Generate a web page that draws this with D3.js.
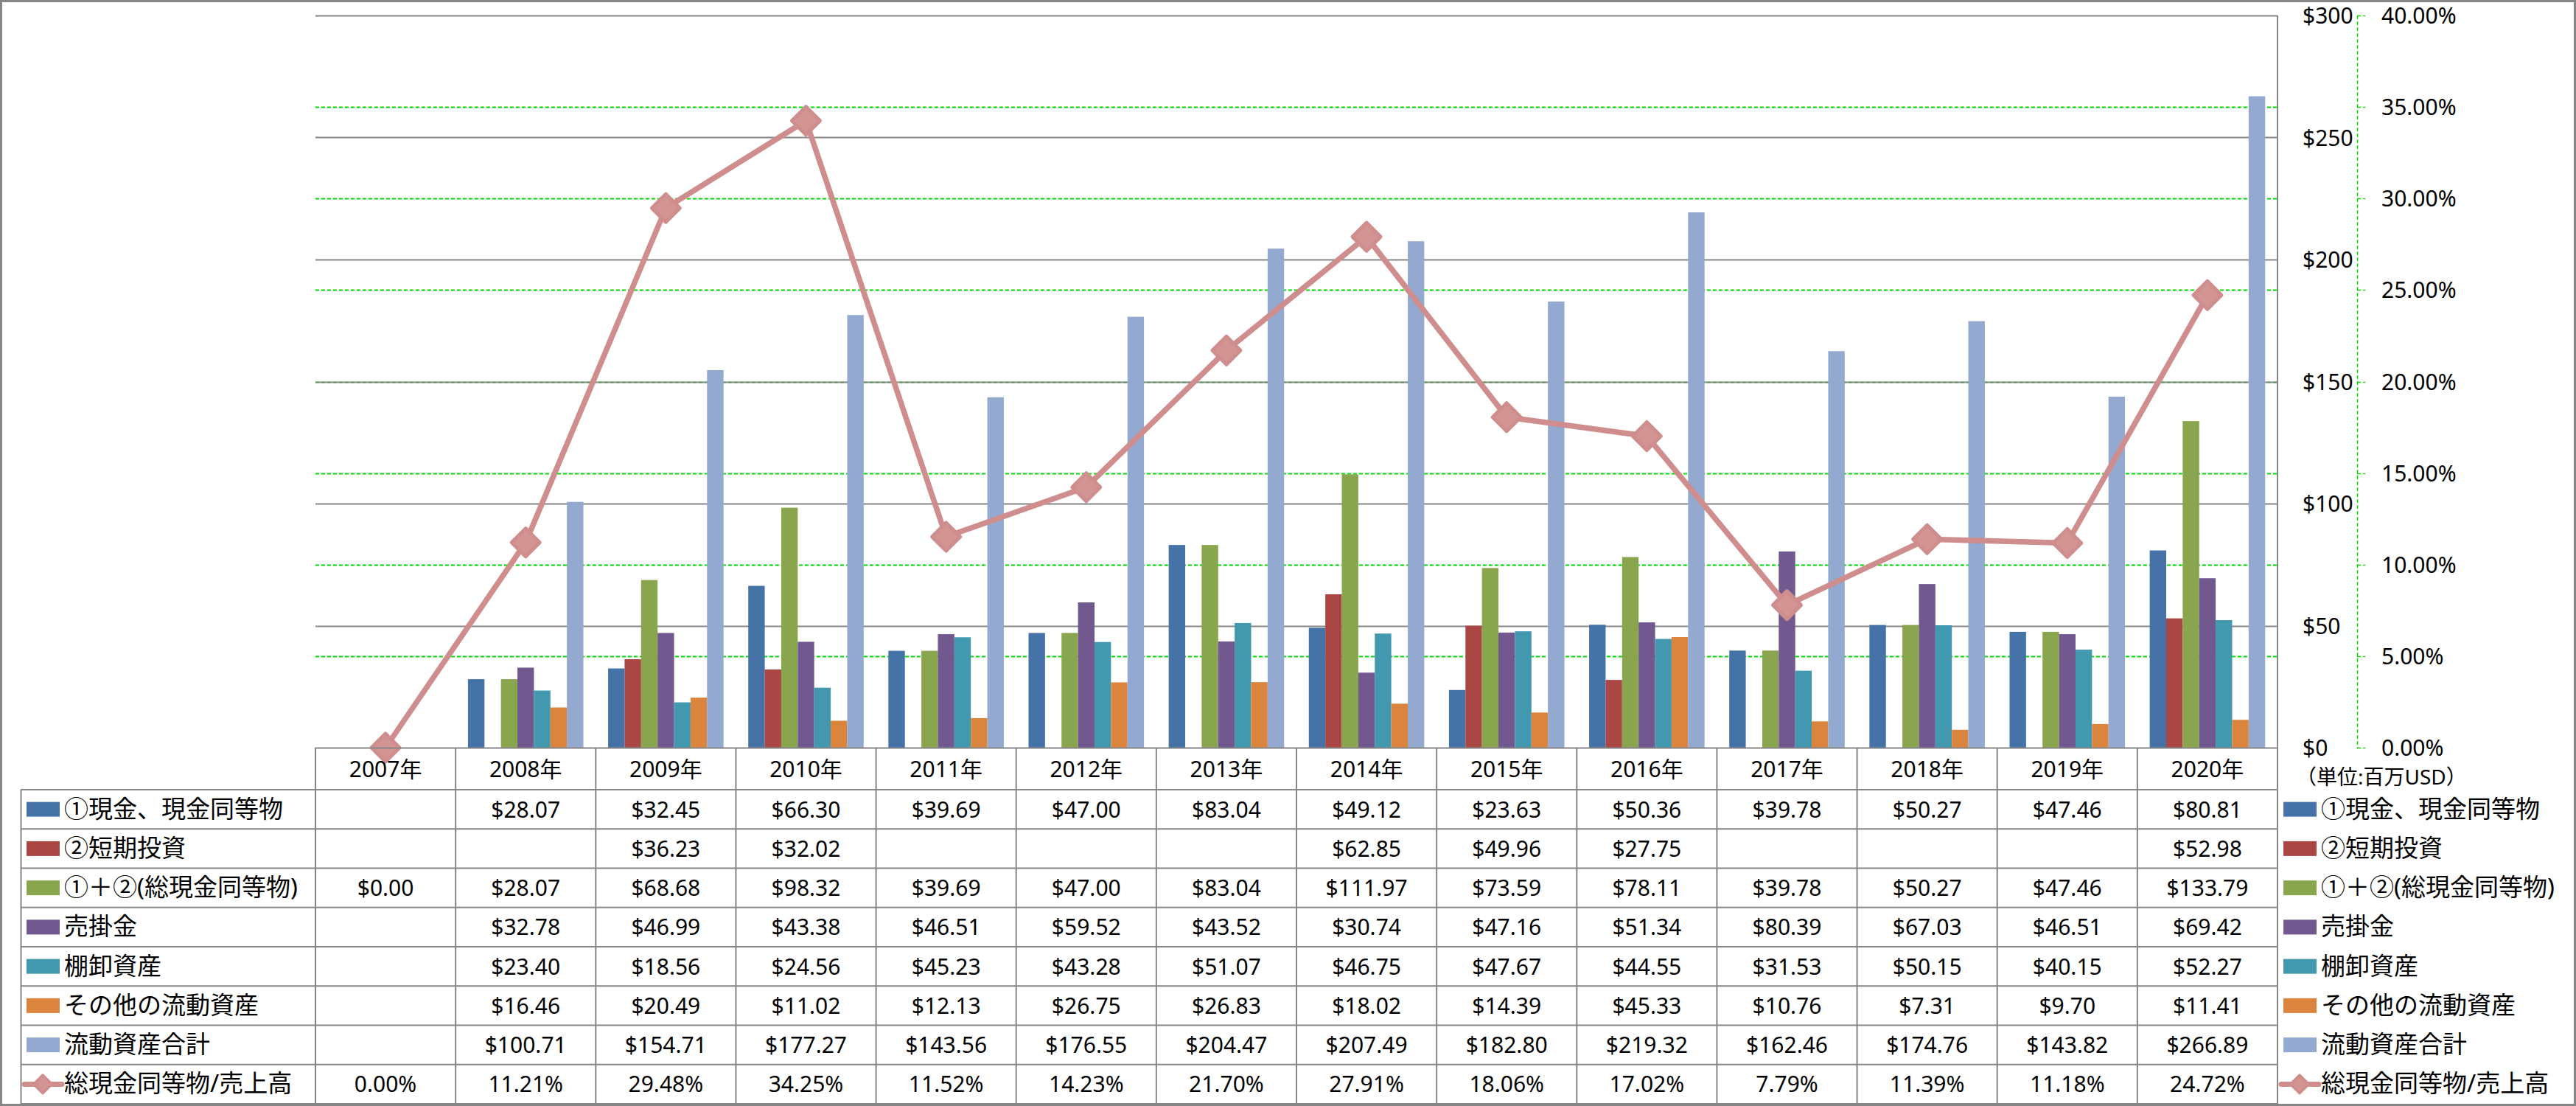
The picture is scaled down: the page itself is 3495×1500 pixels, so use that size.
<!DOCTYPE html>
<html><head><meta charset="utf-8">
<script src="https://cdn.jsdelivr.net/npm/d3@7"></script>
<style>
body{margin:0;background:#fff}
svg{display:block}
text{font-family:'Noto Sans','Noto Sans CJK JP',sans-serif;fill:#000}
</style>
</head><body>
<svg id="c" width="3495" height="1500"></svg>
<script>
// ---- data ----
const years = ['2007年','2008年','2009年','2010年','2011年','2012年','2013年','2014年','2015年','2016年','2017年','2018年','2019年','2020年'];
const cashEq       = [null, 28.07, 32.45, 66.30, 39.69, 47.00, 83.04, 49.12, 23.63, 50.36, 39.78, 50.27, 47.46, 80.81];
const shortInv     = [null, null, 36.23, 32.02, null, null, null, 62.85, 49.96, 27.75, null, null, null, 52.98];
const totalCash    = [0.00, 28.07, 68.68, 98.32, 39.69, 47.00, 83.04, 111.97, 73.59, 78.11, 39.78, 50.27, 47.46, 133.79];
const receivables  = [null, 32.78, 46.99, 43.38, 46.51, 59.52, 43.52, 30.74, 47.16, 51.34, 80.39, 67.03, 46.51, 69.42];
const inventory    = [null, 23.40, 18.56, 24.56, 45.23, 43.28, 51.07, 46.75, 47.67, 44.55, 31.53, 50.15, 40.15, 52.27];
const otherCurrent = [null, 16.46, 20.49, 11.02, 12.13, 26.75, 26.83, 18.02, 14.39, 45.33, 10.76, 7.31, 9.70, 11.41];
const totalCurrent = [null, 100.71, 154.71, 177.27, 143.56, 176.55, 204.47, 207.49, 182.80, 219.32, 162.46, 174.76, 143.82, 266.89];
const cashToSales  = [0.00, 11.21, 29.48, 34.25, 11.52, 14.23, 21.70, 27.91, 18.06, 17.02, 7.79, 11.39, 11.18, 24.72];
const barNames = ['①現金、現金同等物','②短期投資','①＋②(総現金同等物)','売掛金','棚卸資産','その他の流動資産','流動資産合計'];
const lineName = '総現金同等物/売上高';
const dollarTicks = [0,50,100,150,200,250,300];
const pctTicks = [0,5,10,15,20,25,30,35,40];
const unitLabel = '（単位:百万USD）';

const barSeries = [cashEq, shortInv, totalCash, receivables, inventory, otherCurrent, totalCurrent];
const barColors = ['#4572A7','#AA4643','#89A54E','#71588F','#4198AF','#DB843D','#93A9CF'];
const lineColor = '#CF8E8D', markerFill = '#D39594';
const gridGray = '#868686';

// ---- layout ----
const svg = d3.select('#c');
svg.append('rect').attr('x',0).attr('y',0).attr('width',3495).attr('height',1500).attr('fill','#fff');
const P = {l:428, r:3090, t:21, b:1014};
const x = d3.scaleBand().domain(years).range([P.l, P.r]).padding(0);
const xi = d3.scaleBand().domain(d3.range(barSeries.length)).range([0, x.bandwidth()]).paddingInner(0).paddingOuter(0.75);
const y = d3.scaleLinear().domain([0,300]).range([P.b, P.t]);
const y2 = d3.scaleLinear().domain([0,40]).range([P.b, P.t]);

// secondary gridlines (green dashed)
svg.append('g').selectAll('line').data(pctTicks.filter(d=>d>0 && d<40)).join('line')
  .attr('x1',P.l).attr('x2',P.r).attr('y1',d=>Math.round(y2(d))+0.5).attr('y2',d=>Math.round(y2(d))+0.5)
  .attr('stroke','#00E000').attr('stroke-width',2).attr('stroke-dasharray','5,3');
// primary gridlines (gray)
svg.append('g').selectAll('line').data(dollarTicks.filter(d=>d>0)).join('line')
  .attr('x1',P.l).attr('x2',P.r).attr('y1',d=>Math.round(y(d))+0.5).attr('y2',d=>Math.round(y(d))+0.5)
  .attr('stroke',gridGray).attr('stroke-width',2);
// plot right border
svg.append('line').attr('x1',P.r).attr('x2',P.r).attr('y1',P.t).attr('y2',P.b).attr('stroke',gridGray).attr('stroke-width',2);

// bars
barSeries.forEach((arr,si)=>{
  svg.append('g').selectAll('rect').data(arr.map((v,i)=>({v,i})).filter(d=>d.v!==null)).join('rect')
    .attr('x',d=>x(years[d.i])+xi(si)).attr('width',xi.bandwidth())
    .attr('y',d=>y(d.v)).attr('height',d=>y(0)-y(d.v)).attr('fill',barColors[si]);
});

// line
const cx = i => x(years[i]) + x.bandwidth()/2;
svg.append('path').datum(cashToSales)
  .attr('d', d3.line().x((d,i)=>cx(i)).y(d=>y2(d)))
  .attr('fill','none').attr('stroke',lineColor).attr('stroke-width',7.5).attr('stroke-linejoin','round');
const diamond = r => `M0,${-r}L${r},0L0,${r}L${-r},0Z`;
svg.append('g').selectAll('path').data(cashToSales).join('path')
  .attr('transform',(d,i)=>`translate(${cx(i)},${y2(d)})`)
  .attr('d',diamond(19)).attr('fill',markerFill).attr('stroke',lineColor).attr('stroke-width',5).attr('stroke-linejoin','round');

// right axes
const axG = svg.append('g');
axG.append('line').attr('x1',3198.5).attr('x2',3198.5).attr('y1',P.t).attr('y2',P.b)
  .attr('stroke','#00E000').attr('stroke-width',1.5).attr('stroke-dasharray','5,3');
axG.selectAll('line.tk').data(pctTicks).join('line').attr('class','tk')
  .attr('x1',3198).attr('x2',3209).attr('y1',d=>Math.round(y2(d))+0.5).attr('y2',d=>Math.round(y2(d))+0.5)
  .attr('stroke','#00E000').attr('stroke-width',1.5).attr('stroke-dasharray','5,3');
axG.selectAll('text.d').data(dollarTicks).join('text').attr('class','d')
  .attr('x',3124).attr('y',d=>y(d)+11).attr('font-size',30).text(d=>'$'+d);
axG.selectAll('text.p').data(pctTicks).join('text').attr('class','p')
  .attr('x',3231).attr('y',d=>y2(d)+11).attr('font-size',30).text(d=>d3.format('.2f')(d)+'%');
svg.append('text').attr('x',3115).attr('y',1064).attr('font-size',28).text(unitLabel);

// ---- data table ----
const rowKeys = d3.range(8);
const ry = d3.scaleBand().domain(rowKeys).range([1071, 1497]).padding(0);
const tg = svg.append('g');
const lineAttr = s => s.attr('stroke',gridGray).attr('stroke-width',2);
// header top line
lineAttr(tg.append('line').attr('x1',P.l).attr('x2',P.r).attr('y1',P.b+0.5).attr('y2',P.b+0.5));
// row lines
tg.selectAll('line.r').data(d3.range(9)).join('line').attr('class','r')
  .attr('x1',28).attr('x2',P.r).attr('y1',d=>1071+d*ry.bandwidth()).attr('y2',d=>1071+d*ry.bandwidth())
  .call(lineAttr);
// column lines
tg.selectAll('line.c').data(d3.range(years.length+1)).join('line').attr('class','c')
  .attr('x1',d=>P.l+d*x.bandwidth()).attr('x2',d=>P.l+d*x.bandwidth()).attr('y1',P.b).attr('y2',1497)
  .call(lineAttr);
lineAttr(tg.append('line').attr('x1',28.5).attr('x2',28.5).attr('y1',1071).attr('y2',1497));
// headers
tg.selectAll('text.h').data(years).join('text').attr('class','h')
  .attr('x',d=>x(d)+x.bandwidth()/2).attr('y',(P.b+1071)/2+11).attr('text-anchor','middle')
  .attr('font-size',30).text(d=>d);
// values
const fmtD = v => v===null ? '' : '$'+d3.format('.2f')(v);
const fmtP = v => v===null ? '' : d3.format('.2f')(v)+'%';
const rows = barSeries.map(a=>a.map(fmtD)).concat([cashToSales.map(fmtP)]);
rows.forEach((r,ri)=>{
  tg.append('g').selectAll('text').data(r).join('text')
    .attr('x',(d,i)=>x(years[i])+x.bandwidth()/2).attr('y',ry(ri)+ry.bandwidth()/2+11)
    .attr('text-anchor','middle').attr('font-size',30).text(d=>d);
});
// legend keys (left in table & right legend)
const allNames = barNames.concat([lineName]);
[{kx:36, tx:87},{kx:3098, tx:3149}].forEach(pos=>{
  allNames.forEach((n,ri)=>{
    const cy = ry(ri)+ry.bandwidth()/2;
    if (ri < barNames.length) {
      tg.append('rect').attr('x',pos.kx).attr('y',cy-10).attr('width',45).attr('height',20).attr('fill',barColors[ri]);
    } else {
      tg.append('line').attr('x1',pos.kx-3).attr('x2',pos.kx+48).attr('y1',cy).attr('y2',cy)
        .attr('stroke',lineColor).attr('stroke-width',7).attr('stroke-linecap','round');
      tg.append('path').attr('transform',`translate(${pos.kx+22},${cy})`).attr('d',diamond(12))
        .attr('fill',markerFill).attr('stroke',lineColor).attr('stroke-width',4).attr('stroke-linejoin','round');
    }
    tg.append('text').attr('x',pos.tx).attr('y',cy+11).attr('font-size',33).text(n);
  });
});
// outer border
svg.append('rect').attr('x',1.5).attr('y',1.5).attr('width',3492).attr('height',1497)
  .attr('fill','none').attr('stroke',gridGray).attr('stroke-width',3);
</script>
</body></html>
